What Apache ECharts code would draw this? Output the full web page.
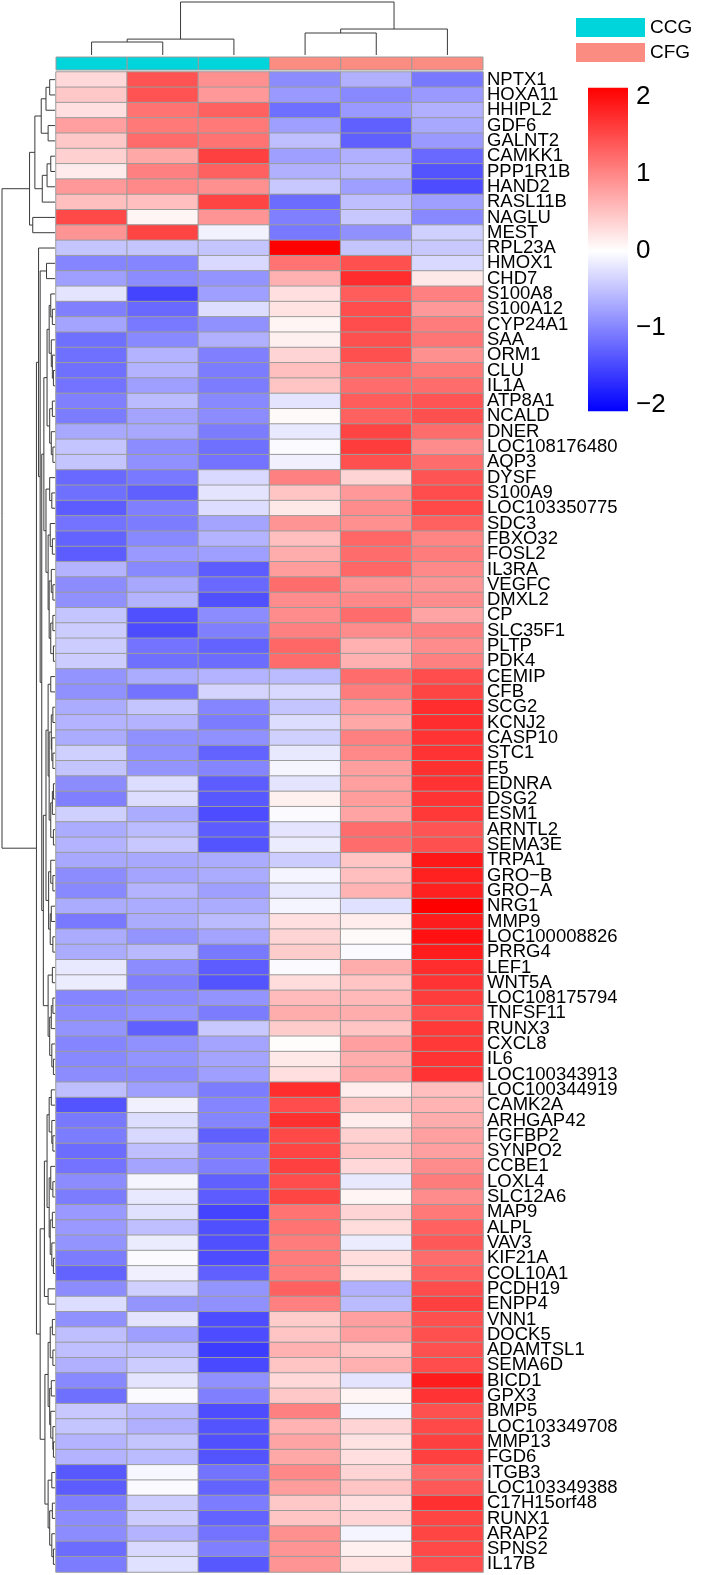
<!DOCTYPE html>
<html>
<head>
<meta charset="utf-8">
<script src="https://cdn.jsdelivr.net/npm/echarts@6/dist/echarts.min.js"></script>
<style>
    html, body { margin: 0; padding: 0; background: #fff; }
    #main { width: 707px; height: 1575px; }
</style>
</head>
<body>
<div id="main"></div>
<script>
// genes, top to bottom
var genes = ["NPTX1","HOXA11","HHIPL2","GDF6","GALNT2","CAMKK1","PPP1R1B","HAND2","RASL11B","NAGLU",
    "MEST","RPL23A","HMOX1","CHD7","S100A8","S100A12","CYP24A1","SAA","ORM1","CLU",
    "IL1A","ATP8A1","NCALD","DNER","LOC108176480","AQP3","DYSF","S100A9","LOC103350775","SDC3",
    "FBXO32","FOSL2","IL3RA","VEGFC","DMXL2","CP","SLC35F1","PLTP","PDK4","CEMIP",
    "CFB","SCG2","KCNJ2","CASP10","STC1","F5","EDNRA","DSG2","ESM1","ARNTL2",
    "SEMA3E","TRPA1","GRO\u2212B","GRO\u2212A","NRG1","MMP9","LOC100008826","PRRG4","LEF1","WNT5A",
    "LOC108175794","TNFSF11","RUNX3","CXCL8","IL6","LOC100343913","LOC100344919","CAMK2A","ARHGAP42","FGFBP2",
    "SYNPO2","CCBE1","LOXL4","SLC12A6","MAP9","ALPL","VAV3","KIF21A","COL10A1","PCDH19",
    "ENPP4","VNN1","DOCK5","ADAMTSL1","SEMA6D","BICD1","GPX3","BMP5","LOC103349708","MMP13",
    "FGD6","ITGB3","LOC103349388","C17H15orf48","RUNX1","ARAP2","SPNS2","IL17B"];

var samples = ["CCG1", "CCG2", "CCG3", "CFG1", "CFG2", "CFG3"];
var sampleGroup = [0, 0, 0, 1, 1, 1];
var groupNames = ["CCG", "CFG"];
var groupColors = ["#00D5DC", "#FA8C82"];

// row z-scores, one array per sample
var ccg1 = [0.3,0.43,0.25,0.75,0.43,0.37,0.16,0.8,0.5,1.43,
    0.84,-0.46,-0.96,-0.75,-0.21,-1.0,-0.71,-1.12,-1.12,-1.12,
    -1.1,-1.0,-1.03,-0.68,-0.46,-0.46,-1.18,-1.12,-1.28,-1.1,
    -1.22,-1.28,-0.6,-0.9,-0.87,-0.46,-0.4,-0.4,-0.4,-0.84,
    -0.87,-0.65,-0.6,-0.65,-0.37,-0.46,-0.9,-1.0,-0.37,-0.65,
    -0.6,-0.68,-0.9,-0.93,-0.65,-1.05,-0.65,-0.65,-0.18,-0.15,
    -0.96,-0.9,-0.84,-0.96,-0.93,-0.9,-0.5,-1.34,-1.05,-1.03,
    -1.15,-1.1,-0.9,-1.03,-0.8,-0.8,-0.84,-1.03,-1.22,-0.9,
    -0.27,-0.87,-0.5,-0.5,-0.62,-0.93,-1.12,-0.43,-0.46,-0.6,
    -0.6,-1.31,-1.28,-1.0,-0.9,-0.9,-1.15,-1.03];
var ccg2 = [1.35,1.35,1.1,1.05,1.17,0.68,1.0,0.93,0.5,0.08,
    1.47,-0.46,-0.96,-0.9,-1.47,-1.18,-1.05,-0.93,-0.6,-0.6,
    -0.75,-0.53,-0.71,-0.68,-0.9,-0.87,-1.05,-1.25,-1.0,-1.03,
    -0.93,-0.8,-0.93,-0.68,-0.6,-1.37,-1.4,-1.1,-1.12,-0.65,
    -1.1,-0.46,-0.6,-0.87,-0.87,-0.84,-0.27,-0.27,-0.65,-0.53,
    -0.43,-0.68,-0.71,-0.6,-0.65,-0.65,-0.84,-0.55,-0.9,-1.0,
    -0.9,-0.84,-1.25,-0.87,-0.84,-0.9,-0.75,-0.12,-0.27,-0.3,
    -0.5,-0.71,-0.08,-0.18,-0.24,-0.5,-0.15,-0.04,-0.12,-0.37,
    -0.84,-0.21,-0.75,-0.5,-0.4,-0.21,-0.04,-0.55,-0.62,-0.46,
    -0.53,-0.06,-0.04,-0.4,-0.4,-0.6,-0.3,-0.24];
var ccg3 = [0.87,0.8,1.25,1.05,1.1,1.5,1.25,0.87,1.47,0.84,
    -0.1,-0.46,-0.3,-0.84,-0.75,-0.27,-0.87,-0.62,-1.0,-1.03,
    -1.03,-0.93,-0.9,-1.03,-1.12,-1.1,-0.3,-0.21,-0.27,-0.71,
    -0.6,-0.75,-1.28,-1.18,-1.37,-0.9,-1.0,-1.22,-1.15,-0.6,
    -0.34,-0.96,-1.03,-0.87,-1.22,-0.96,-1.28,-1.31,-1.4,-1.28,
    -1.34,-0.65,-0.65,-0.75,-0.65,-0.53,-0.71,-1.05,-1.28,-1.34,
    -0.84,-1.03,-0.43,-0.71,-0.71,-0.75,-1.03,-0.96,-0.96,-1.25,
    -1.03,-1.0,-1.25,-1.28,-1.47,-1.37,-1.37,-1.4,-1.25,-0.84,
    -0.87,-1.4,-1.4,-1.53,-1.43,-0.87,-1.0,-1.4,-1.34,-1.37,
    -1.34,-1.1,-1.22,-1.03,-1.22,-1.1,-1.0,-1.31];
var cfg1 = [-0.9,-0.8,-1.13,-0.75,-0.5,-0.75,-0.62,-0.43,-1.15,-1.0,
    -1.05,2.0,1.1,0.62,0.25,0.22,0.08,0.12,0.34,0.5,
    0.46,-0.21,0.04,-0.18,-0.04,-0.12,1.0,0.46,0.18,0.84,
    0.5,0.65,0.77,1.15,0.9,0.9,1.0,1.2,1.15,-0.53,
    -0.3,-0.46,-0.27,-0.37,-0.18,-0.08,-0.21,0.12,-0.04,-0.21,
    -0.15,-0.4,-0.08,-0.18,-0.08,0.25,0.34,0.4,-0.04,0.27,
    0.53,0.65,0.4,0.02,0.18,0.25,1.65,1.4,1.62,1.43,
    1.47,1.5,1.4,1.47,1.1,1.1,1.03,1.03,1.03,1.25,
    1.0,0.4,0.46,0.62,0.46,0.3,0.43,1.0,0.6,0.71,
    0.68,0.93,0.77,0.43,0.46,0.87,0.84,0.84];
var cfg2 = [-0.62,-0.93,-0.8,-1.25,-1.25,-0.62,-0.55,-0.75,-0.5,-0.43,
    -0.87,-0.46,1.37,1.65,1.28,1.4,1.4,1.37,1.37,1.2,
    1.15,1.28,1.25,1.47,1.53,1.37,0.34,0.8,0.9,0.87,
    1.2,1.15,1.2,0.84,0.93,1.15,0.9,0.62,0.62,1.15,
    1.03,0.8,0.68,1.0,0.93,0.75,0.75,0.77,0.71,1.15,
    1.15,0.46,0.5,0.6,-0.24,0.15,0.04,-0.04,0.65,0.46,
    0.55,0.65,0.46,0.75,0.65,0.71,0.15,0.46,0.15,0.37,
    0.46,0.3,-0.18,0.08,0.34,0.27,-0.15,0.27,0.22,-0.62,
    -0.53,0.75,0.75,0.46,0.62,-0.21,0.08,-0.08,0.34,0.22,
    0.25,0.34,0.46,0.25,0.34,-0.08,0.12,0.22];
var cfg3 = [-1.05,-0.8,-0.62,-0.68,-0.8,-1.18,-1.34,-1.4,-0.75,-0.93,
    -0.37,-0.43,-0.3,0.18,1.0,0.8,1.03,1.08,0.87,1.05,
    1.15,1.34,1.37,1.15,0.9,1.15,1.34,1.4,1.43,1.25,
    0.96,1.03,0.93,0.84,0.9,0.71,1.0,0.9,1.0,1.4,
    1.47,1.65,1.65,1.6,1.6,1.62,1.6,1.6,1.56,1.34,
    1.37,1.81,1.75,1.75,2.0,1.78,1.87,1.78,1.65,1.6,
    1.53,1.4,1.56,1.56,1.6,1.6,0.5,0.6,0.65,0.75,
    0.75,0.9,1.03,0.9,1.05,1.25,1.31,1.15,1.25,1.4,
    1.5,1.37,1.37,1.37,1.4,1.78,1.6,1.37,1.43,1.5,
    1.5,1.2,1.31,1.62,1.47,1.47,1.43,1.4];

// dendrograms: [height, left, right], leaves are 1-based positions
var colTree = [1.0, [0.30, [0.245, 1, 2], 3], [0.49, [0.415, 4, 5], 6]];
var rowTree = [1.0,
    [0.48,
        [0.38, [0.26, [0.17, [0.1, 1, 2], 3], [0.13, 4, 5]], [0.24, [0.15, [0.08, 6, 7], 8], 9]],
        [0.42, 10, 11]],
    [0.35,
        [0.31, 12,
            [0.28, [0.16, 13, 14],
                [0.25,
                    [0.21,
                        [0.15, [0.11, [0.08, 15, [0.05, 16, 17]], [0.07, 18, [0.05, 19, [0.03, 20, 21]]]],
                            [0.1, [0.05, 22, 23], [0.07, 24, [0.04, 25, 26]]]],
                        [0.17, [0.1, 27, [0.06, 28, 29]],
                            [0.13, [0.09, 30, [0.05, 31, 32]],
                                [0.11, [0.07, 33, [0.04, 34, 35]], [0.08, [0.04, 36, 37], [0.03, 38, 39]]]]]],
                    [0.22,
                        [0.17,
                            [0.13, [0.08, 40, 41],
                                [0.11, [0.07, [0.04, 42, 43], [0.06, 44, [0.04, 45, 46]]],
                                    [0.08, [0.05, [0.03, 47, 48], 49], [0.03, 50, 51]]]],
                            [0.12, [0.08, 52, [0.04, 53, 54]], [0.09, [0.07, 55, 56], [0.04, 57, 58]]]],
                        [0.13, [0.05, 59, 60], [0.1, [0.07, [0.04, 61, 62], 63], [0.06, 64, [0.03, 65, 66]]]]]]]],
        [0.28,
            [0.2,
                [0.15, [0.11, [0.07, 67, 68], [0.06, 69, [0.04, 70, 71]]],
                    [0.11, [0.08, 72, [0.04, 73, 74]], [0.09, [0.05, 75, 76], [0.06, 77, [0.03, 78, 79]]]]],
                [0.13, 80, 81]],
            [0.19,
                [0.13, [0.09, [0.05, 82, 83], [0.04, 84, 85]],
                    [0.1, [0.07, 86, 87], [0.08, 88, [0.04, 89, [0.03, 90, 91]]]]],
                [0.13, [0.06, 92, 93], [0.1, [0.05, 94, 95], [0.06, 96, [0.03, 97, 98]]]]]]]];

var scaleTicks = [-2, -1, 0, 1, 2];
var scaleColors = ["#0000FF", "#FFFFFF", "#FF0000"];

// ---------- build series data ----------
var columns = [ccg1, ccg2, ccg3, cfg1, cfg2, cfg3];
var heatData = [];
for (var r = 0; r < genes.length; r++) {
    for (var c = 0; c < columns.length; c++) {
        heatData.push([c, r, columns[c][r]]);
    }
}

function treeSegments(node, out) {
    if (typeof node === "number") return { pos: node - 1, h: 0 };
    var a = treeSegments(node[1], out);
    var b = treeSegments(node[2], out);
    var h = node[0];
    out.push([a.h, a.pos, h, a.pos]);
    out.push([b.h, b.pos, h, b.pos]);
    out.push([h, a.pos, h, b.pos]);
    return { pos: (a.pos + b.pos) / 2, h: h };
}
var rowSegs = [];
treeSegments(rowTree, rowSegs);
var colSegs = [];
treeSegments(colTree, colSegs);

var annoData = samples.map(function (s, i) { return [i, 0, sampleGroup[i]]; });

var narrow = "'Liberation Sans Narrow', 'Arial Narrow', 'Liberation Sans', Arial, sans-serif";

// segment renderers: rows use (height, position), columns use (position, height)
function rowSegment(params, api) {
    var p1 = api.coord([api.value(0), api.value(1)]);
    var p2 = api.coord([api.value(2), api.value(3)]);
    return { type: "line", shape: { x1: p1[0], y1: p1[1], x2: p2[0], y2: p2[1] },
        style: { stroke: "#3a3a3a", lineWidth: 1 } };
}
function colSegment(params, api) {
    var p1 = api.coord([api.value(1), api.value(0)]);
    var p2 = api.coord([api.value(3), api.value(2)]);
    return { type: "line", shape: { x1: p1[0], y1: p1[1], x2: p2[0], y2: p2[1] },
        style: { stroke: "#3a3a3a", lineWidth: 1 } };
}

var chart = echarts.init(document.getElementById("main"), null, { renderer: "canvas" });

var option = {
    backgroundColor: "#fff",
    animation: false,
    grid: [
        { left: 56, top: 72, width: 427, height: 1500 },   // 0 heatmap
        { left: 56, top: 57, width: 427, height: 13 },     // 1 annotation
        { left: 56, top: 2, width: 427, height: 53 },      // 2 column dendrogram
        { left: 2, top: 72, width: 53, height: 1500 },     // 3 row dendrogram
        { left: 588, top: 97, width: 40, height: 308 }     // 4 colour scale
    ],
    xAxis: [
        { gridIndex: 0, type: "category", data: samples, show: false },
        { gridIndex: 1, type: "category", data: samples, show: false },
        { gridIndex: 2, type: "value", min: -0.5, max: 5.5, show: false },
        { gridIndex: 3, type: "value", min: 0, max: 1, inverse: true, show: false },
        { gridIndex: 4, type: "value", min: 0, max: 1, show: false }
    ],
    yAxis: [
        { gridIndex: 0, type: "category", data: genes, inverse: true, position: "right",
            axisLine: { show: false }, axisTick: { show: false },
            axisLabel: { interval: 0, margin: 4, color: "#000", fontSize: 18.5, fontFamily: narrow } },
        { gridIndex: 1, type: "category", data: ["group"], show: false },
        { gridIndex: 2, type: "value", min: 0, max: 1, show: false },
        { gridIndex: 3, type: "value", min: -0.5, max: genes.length - 0.5, inverse: true, show: false },
        { gridIndex: 4, type: "value", min: -2, max: 2, interval: 1, position: "right",
            axisLine: { show: false }, axisTick: { show: false }, splitLine: { show: false },
            axisLabel: { margin: 8, color: "#000", fontSize: 26, fontFamily: narrow,
                formatter: function (v) { return v < 0 ? "\u2212" + Math.abs(v) : String(v); } } }
    ],
    visualMap: {
        show: false,
        type: "continuous",
        seriesIndex: 0,
        dimension: 2,
        min: scaleTicks[0],
        max: scaleTicks[scaleTicks.length - 1],
        inRange: { color: scaleColors }
    },
    series: [
        {
            type: "heatmap",
            xAxisIndex: 0, yAxisIndex: 0,
            data: heatData,
            itemStyle: { borderColor: "#9c9c9c", borderWidth: 1 },
            emphasis: { disabled: true }
        },
        {
            type: "custom",
            xAxisIndex: 1, yAxisIndex: 1,
            data: annoData,
            renderItem: function (params, api) {
                var p = api.coord([api.value(0), api.value(1)]);
                var s = api.size([1, 1]);
                return { type: "rect",
                    shape: { x: p[0] - s[0] / 2, y: p[1] - s[1] / 2, width: s[0], height: s[1] },
                    style: { fill: groupColors[api.value(2)], stroke: "#9c9c9c", lineWidth: 1 } };
            }
        },
        { type: "custom", xAxisIndex: 2, yAxisIndex: 2, data: colSegs, renderItem: colSegment, clip: false },
        { type: "custom", xAxisIndex: 3, yAxisIndex: 3, data: rowSegs, renderItem: rowSegment, clip: false },
        {
            type: "custom",
            xAxisIndex: 4, yAxisIndex: 4,
            clip: false,
            data: [[0, 2.12, 1, -2.08]],
            renderItem: function (params, api) {
                var p1 = api.coord([api.value(0), api.value(1)]);
                var p2 = api.coord([api.value(2), api.value(3)]);
                var zero = api.coord([0, 0])[1];
                var mid = (zero - p1[1]) / (p2[1] - p1[1]);
                return { type: "rect",
                    shape: { x: p1[0], y: p1[1], width: p2[0] - p1[0], height: p2[1] - p1[1] },
                    style: { fill: new echarts.graphic.LinearGradient(0, 0, 0, 1, [
                        { offset: 0, color: scaleColors[2] },
                        { offset: mid, color: scaleColors[1] },
                        { offset: 1, color: scaleColors[0] }]) } };
            }
        }
    ],
    graphic: groupNames.map(function (g, i) {
        return {
            type: "group", left: 576, top: 18 + i * 25,
            children: [
                { type: "rect", shape: { x: 0, y: 0, width: 69, height: 19 }, style: { fill: groupColors[i] } },
                { type: "text", x: 74, y: 10,
                    style: { text: g, fill: "#000", fontSize: 19, fontFamily: narrow, verticalAlign: "middle" } }
            ]
        };
    })
};

chart.setOption(option);
</script>
</body>
</html>
